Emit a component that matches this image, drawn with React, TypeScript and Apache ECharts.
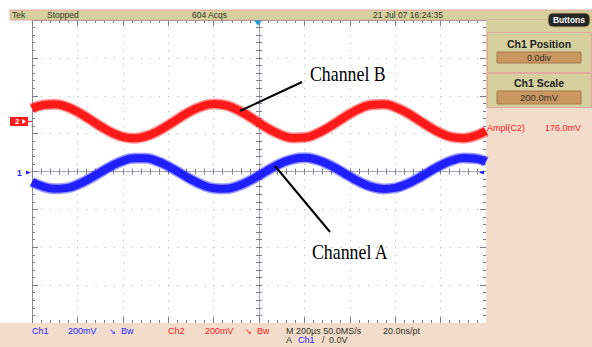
import React, { useEffect, useRef } from "react";
import * as echarts from "echarts";

// horizontal position in divisions from screen centre (10 div = 2 ms)
const timeDiv = [
  -5, -4.75, -4.5, -4.25, -4, -3.75, -3.5, -3.25, -3, -2.75, -2.5, -2.25, -2, -1.75, -1.5, -1.25,
  -1, -0.75, -0.5, -0.25, 0, 0.25, 0.5, 0.75, 1, 1.25, 1.5, 1.75, 2, 2.25, 2.5, 2.75, 3, 3.25,
  3.5, 3.75, 4, 4.25, 4.5, 4.75, 5,
];
// Channel A (Ch1, blue) in vertical divisions
const ch1Div = [
  -0.277, -0.4, -0.457, -0.439, -0.348, -0.202, -0.027, 0.143, 0.278, 0.351, 0.35, 0.274, 0.137,
  -0.034, -0.208, -0.353, -0.441, -0.457, -0.396, -0.271, -0.105, 0.071, 0.225, 0.328, 0.36, 0.316,
  0.203, 0.044, -0.133, -0.295, -0.411, -0.459, -0.432, -0.333, -0.182, -0.006, 0.162, 0.29, 0.355,
  0.344, 0.26,
];
// Channel B (Ch2, red) in vertical divisions
const ch2Div = [
  1.66, 1.758, 1.777, 1.712, 1.576, 1.394, 1.201, 1.031, 0.917, 0.88, 0.927, 1.049, 1.223, 1.417,
  1.595, 1.724, 1.779, 1.75, 1.643, 1.478, 1.285, 1.101, 0.959, 0.886, 0.896, 0.987, 1.142, 1.332,
  1.521, 1.675, 1.765, 1.773, 1.699, 1.556, 1.371, 1.179, 1.014, 0.908, 0.881, 0.938, 1.067,
];

const topTexts = ["Tek", "Stopped", "604 Acqs", "21 Jul 07 16:24:35"];
const statusCh1 = ["Ch1", "200mV", "↘", "Bw"];
const statusCh2 = ["Ch2", "200mV", "↘", "Bw"];
const timebase = ["M 200µs 50.0MS/s", "20.0ns/pt"];
const trigger = ["A", "Ch1", "/", "0.0V"];
const sidePanel = ["Ch1 Position", "0.0div", "Ch1 Scale", "200.0mV"];
const measure = ["Ampl(C2)", "176.0mV"];
const labels = ["Channel B", "Channel A"];

const KHAKI = "#d6d09e";
const PEACH = "#f2dccc";
const PINK = "#e3a9a0";
const FIELD = "#c9975f";
const BLUE = "#1f1fff";
const RED = "#ff1a1a";
const DARK = "#33331f";
const SANS = "Liberation Sans";

function txt(text: string, x: number, y: number, fill: string, size = 9, extra: any = {}) {
  return {
    type: "text",
    z: 50,
    style: {
      text,
      x,
      y,
      fill,
      font: `${extra.bold ? "bold " : ""}${size}px "${SANS}"`,
      textAlign: extra.align || "left",
      textVerticalAlign: "middle",
    },
  };
}

export default function App() {
  const ref = useRef<HTMLDivElement>(null);
  useEffect(() => {
    if (!ref.current) return;
    const chart = echarts.init(ref.current, undefined, { renderer: "svg" });
    const tickColor = "#7d7d8c";
    const base = {
      type: "value",
      min: -5,
      max: 5,
      interval: 1,
      axisLabel: { show: false },
      splitLine: { show: false },
    };
    const yb = { ...base, min: -4, max: 4 };
    const border = (pos: string) => ({
      position: pos,
      axisLine: { onZero: false, lineStyle: { color: "#8c8c8c", width: 1 } },
      axisTick: { show: true, inside: true, length: 6, lineStyle: { color: tickColor } },
      minorTick: { show: true, splitNumber: 5, length: 3, lineStyle: { color: tickColor } },
    });
    const centre = (pos: string, inside: boolean) => ({
      position: pos,
      axisLine: { onZero: true, onZeroAxisIndex: 0, lineStyle: { color: "#a4a4b4", width: 1 } },
      axisTick: { show: true, inside, length: 3, lineStyle: { color: tickColor } },
      minorTick: { show: true, splitNumber: 5, length: 3, lineStyle: { color: tickColor } },
    });
    const pts = (vals: number[]) => timeDiv.map((t, i) => [t, vals[i]]);
    const wave = (vals: number[], color: string, width: number, opacity: number, z: number) => ({
      type: "line",
      data: pts(vals),
      smooth: true,
      showSymbol: false,
      silent: true,
      z,
      lineStyle: { color, width, opacity },
    });

    chart.setOption({
      animation: false,
      backgroundColor: "#ffffff",
      grid: { left: 32, top: 20, width: 454, height: 303, containLabel: false },
      xAxis: [
        {
          ...base,
          ...border("bottom"),
          splitLine: { show: true, lineStyle: { color: "#b4b4b4", type: [1, 6.58] } },
        },
        { ...base, ...border("top") },
        { ...base, ...centre("bottom", true) },
        { ...base, ...centre("bottom", false) },
      ],
      yAxis: [
        {
          ...yb,
          ...border("left"),
          splitLine: { show: true, lineStyle: { color: "#b4b4b4", type: [1, 8.08] } },
        },
        { ...yb, ...border("right") },
        { ...yb, ...centre("left", true) },
        { ...yb, ...centre("left", false) },
      ],
      series: [
        wave(ch2Div, RED, 11, 0.45, 3),
        wave(ch2Div, RED, 8, 1, 4),
        wave(ch1Div, BLUE, 11, 0.45, 3),
        wave(ch1Div, BLUE, 8, 1, 4),
      ],
      graphic: [
        // top status bar
        { type: "rect", z: 1, shape: { x: 10, y: 10, width: 582, height: 10 }, style: { fill: KHAKI, stroke: PINK, lineWidth: 1 } },
        txt(topTexts[0], 12, 15, DARK, 8.5),
        txt(topTexts[1], 47, 15, DARK, 8.5),
        txt(topTexts[2], 192, 15, DARK, 8.5),
        txt(topTexts[3], 373, 15, DARK, 8.5),
        // right panel
        { type: "rect", z: 1, shape: { x: 486, y: 20, width: 106, height: 88 }, style: { fill: KHAKI } },
        { type: "rect", z: 1, shape: { x: 486, y: 108, width: 106, height: 239 }, style: { fill: PEACH } },
        { type: "rect", z: 2, shape: { x: 487.5, y: 32.5, width: 104, height: 40 }, style: { fill: KHAKI, stroke: PINK, lineWidth: 1 } },
        { type: "rect", z: 2, shape: { x: 487.5, y: 73.5, width: 104, height: 34 }, style: { fill: KHAKI, stroke: PINK, lineWidth: 1 } },
        { type: "rect", z: 3, shape: { x: 497, y: 52, width: 84, height: 11 }, style: { fill: FIELD, stroke: "#a67a4c", lineWidth: 1 } },
        { type: "rect", z: 3, shape: { x: 497, y: 91, width: 84, height: 13 }, style: { fill: FIELD, stroke: "#a67a4c", lineWidth: 1 } },
        txt(sidePanel[0], 539, 44, "#222", 10.5, { bold: true, align: "center" }),
        txt(sidePanel[1], 539, 57.5, "#333", 9, { align: "center" }),
        txt(sidePanel[2], 539, 83, "#222", 10.5, { bold: true, align: "center" }),
        txt(sidePanel[3], 539, 97.5, "#333", 9.5, { align: "center" }),
        txt(measure[0], 487, 128, RED, 9),
        txt(measure[1], 545, 128, RED, 9),
        // Buttons
        { type: "rect", z: 5, shape: { x: 548, y: 13, width: 42, height: 14, r: 5 }, style: { fill: "#262626", stroke: "#c8b070", lineWidth: 1 } },
        txt("Buttons", 569, 20, "#ffffff", 8.5, { bold: true, align: "center" }),
        // bottom status
        { type: "rect", z: 1, shape: { x: 0, y: 323, width: 486, height: 24 }, style: { fill: PEACH } },
        txt(statusCh1[0], 32, 331, BLUE, 9),
        txt(statusCh1[1], 68, 331, BLUE, 9),
        txt(statusCh1[2], 109, 331, BLUE, 8),
        txt(statusCh1[3], 121, 331, BLUE, 9),
        txt(statusCh2[0], 168, 331, RED, 9),
        txt(statusCh2[1], 205, 331, RED, 9),
        txt(statusCh2[2], 245, 331, RED, 8),
        txt(statusCh2[3], 257, 331, RED, 9),
        txt(timebase[0], 286, 331, DARK, 9),
        txt(timebase[1], 383, 331, DARK, 9),
        txt(trigger[0], 286, 340, DARK, 9),
        txt(trigger[1], 298, 340, BLUE, 9),
        txt(trigger[2], 322, 340, DARK, 9),
        txt(trigger[3], 329, 340, DARK, 9),
        // channel ground markers
        { type: "rect", z: 5, shape: { x: 10, y: 117, width: 18, height: 9 }, style: { fill: RED } },
        txt("2", 15, 121.5, "#ffffff", 8, { bold: true }),
        { type: "polygon", z: 6, shape: { points: [[22, 119], [26, 121.5], [22, 124]] }, style: { fill: "#ffffff" } },
        { type: "line", z: 5, shape: { x1: 28, y1: 121.5, x2: 32, y2: 121.5 }, style: { stroke: RED, lineWidth: 1 } },
        txt("1", 17, 173, BLUE, 8.5, { bold: true }),
        { type: "polygon", z: 6, shape: { points: [[26, 170.5], [31, 172.5], [26, 174.5]] }, style: { fill: BLUE } },
        { type: "polygon", z: 6, shape: { points: [[484, 170.5], [479, 172.5], [484, 174.5]] }, style: { fill: BLUE } },
        // trigger position
        { type: "polygon", z: 60, shape: { points: [[254, 20.5], [262, 20.5], [258, 25.5]] }, style: { fill: "#1c9ee0" } },
        // annotations
        { type: "line", z: 100, shape: { x1: 240, y1: 111, x2: 302, y2: 82 }, style: { stroke: "#000", lineWidth: 2 } },
        { type: "line", z: 100, shape: { x1: 275, y1: 166, x2: 330, y2: 232 }, style: { stroke: "#000", lineWidth: 2 } },
        {
          type: "text", z: 100, x: 310, y: 73, scaleX: 0.81,
          style: { text: labels[0], x: 0, y: 0, fill: "#000", font: '22px "Liberation Serif"', textVerticalAlign: "middle" },
        },
        {
          type: "text", z: 100, x: 312, y: 251.5, scaleX: 0.81,
          style: { text: labels[1], x: 0, y: 0, fill: "#000", font: '22px "Liberation Serif"', textVerticalAlign: "middle" },
        },
      ],
    });
    return () => chart.dispose();
  }, []);
  return <div ref={ref} style={{ position: "fixed", left: 0, top: 0, width: 592, height: 347 }} />;
}
